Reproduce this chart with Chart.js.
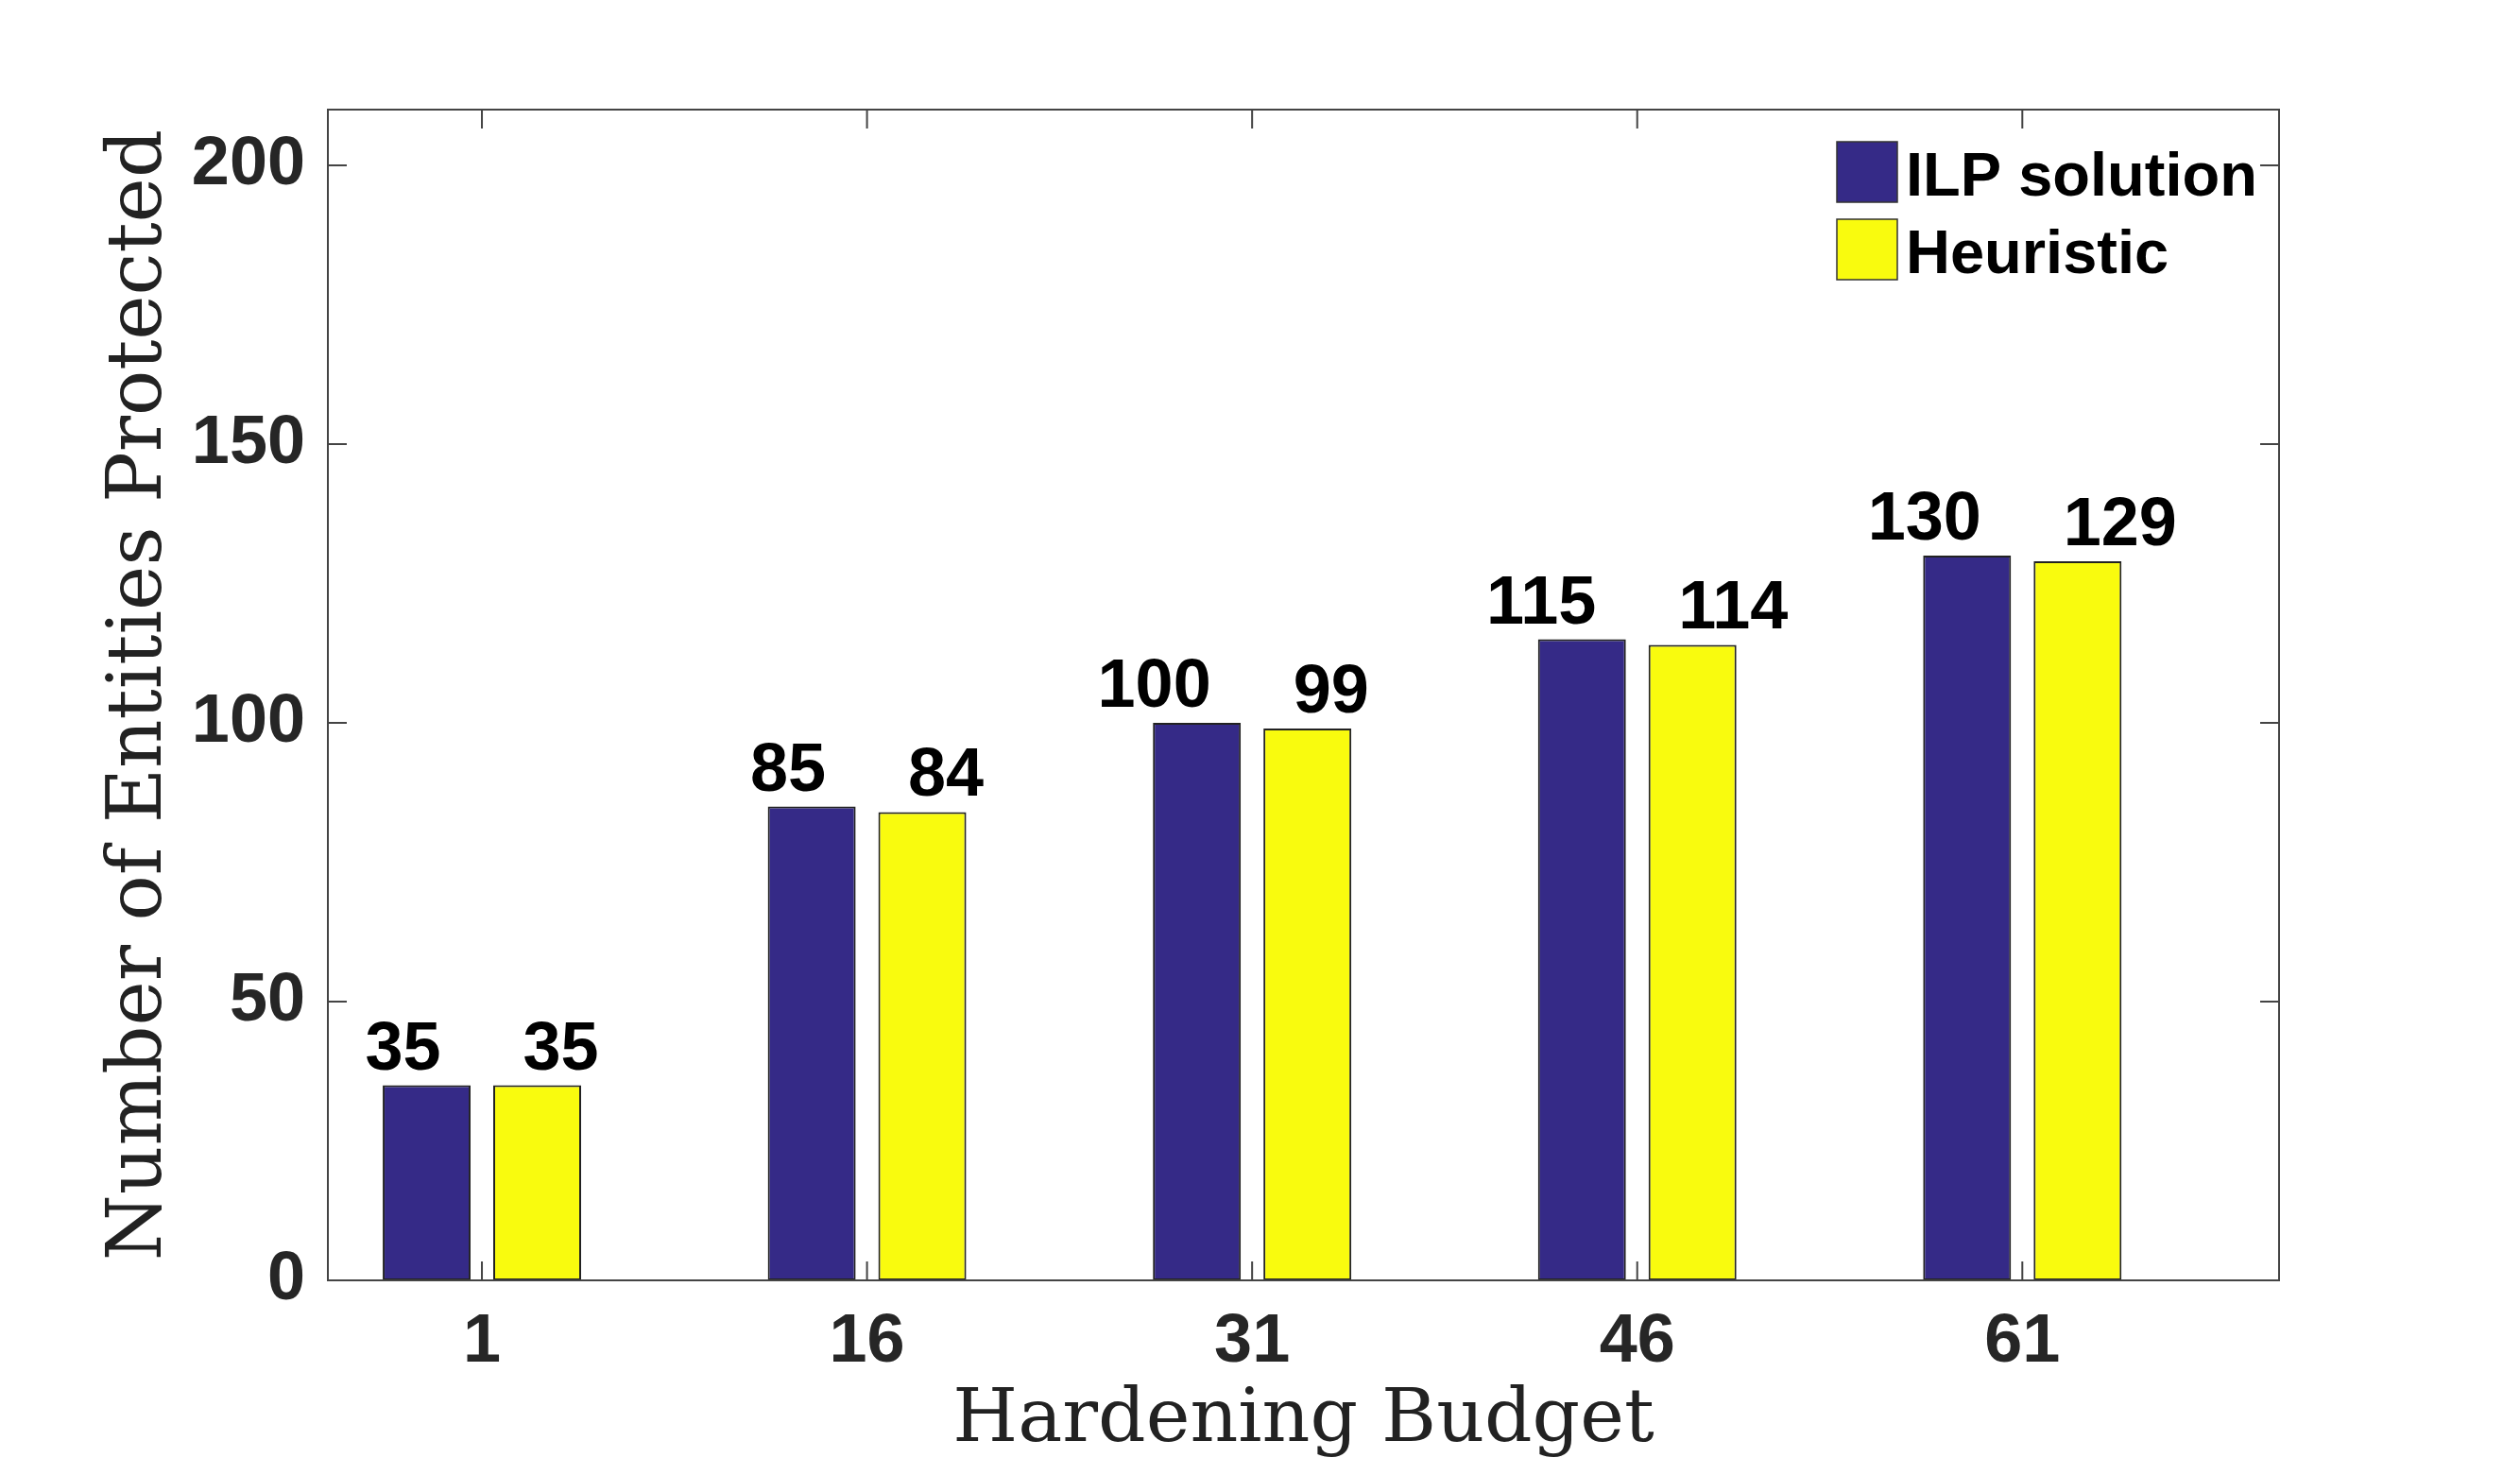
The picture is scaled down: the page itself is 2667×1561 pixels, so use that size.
<!DOCTYPE html>
<html>
<head>
<meta charset="utf-8">
<script src="https://cdn.jsdelivr.net/npm/chart.js@4/dist/chart.umd.min.js"></script>
<style>
  body { margin: 0; background: #fff; }
  canvas { display: block; }
</style>
</head>
<body>
<canvas id="myChart" width="2667" height="1561"></canvas>
<script>
// chart data
const budgets = [1, 16, 31, 46, 61];
const ilpValues = [35, 85, 100, 115, 130];
const heuristicValues = [35, 84, 99, 114, 129];
const yTicks = [0, 50, 100, 150, 200];
const seriesNames = ["ILP solution", "Heuristic"];
const seriesColors = ["rgb(53, 42, 135)", "rgb(249, 251, 14)"];

const sans = "'Liberation Sans', Arial, Helvetica, sans-serif";
const serif = "'DejaVu Serif', serif";

// box + inward ticks like matlab
const axesBox = {
  id: "axesBox",
  afterDatasetsDraw(chart) {
    let { ctx, chartArea: a, scales } = chart;
    let tl = 20;
    ctx.save();
    ctx.strokeStyle = "#444444";
    ctx.lineWidth = 2;
    ctx.strokeRect(a.left, a.top, a.right - a.left, a.bottom - a.top);
    ctx.beginPath();
    scales.y.ticks.forEach(function (t) {
      let py = scales.y.getPixelForValue(t.value);
      ctx.moveTo(a.left, py);
      ctx.lineTo(a.left + tl, py);
      ctx.moveTo(a.right, py);
      ctx.lineTo(a.right - tl, py);
    });
    scales.x.ticks.forEach(function (t) {
      let px = scales.x.getPixelForValue(t.value);
      ctx.moveTo(px, a.bottom);
      ctx.lineTo(px, a.bottom - tl);
      ctx.moveTo(px, a.top);
      ctx.lineTo(px, a.top + tl);
    });
    ctx.stroke();
    ctx.restore();
  },
};

// numbers above the bars
const barValues = {
  id: "barValues",
  afterDatasetsDraw(chart) {
    let ctx = chart.ctx;
    ctx.save();
    ctx.font = "bold 72px " + sans;
    ctx.fillStyle = "#000";
    ctx.textBaseline = "alphabetic";
    chart.data.datasets.forEach(function (ds, di) {
      let meta = chart.getDatasetMeta(di);
      meta.data.forEach(function (bar, i) {
        let text = String(ds.data[i].y);
        if (di === 0) {
          ctx.textAlign = "right";
          ctx.fillText(text, bar.x + 15, bar.y - 17);
        } else {
          ctx.textAlign = "left";
          ctx.fillText(text, bar.x - 15, bar.y - 17);
        }
      });
    });
    ctx.restore();
  },
};

// legend inside the top right corner
const boxLegend = {
  id: "boxLegend",
  afterDraw(chart) {
    let { ctx, chartArea: a } = chart;
    let left = a.right - 468;
    let top = a.top + 34;
    ctx.save();
    ctx.font = "bold 65px " + sans;
    ctx.textAlign = "left";
    ctx.textBaseline = "alphabetic";
    chart.data.datasets.forEach(function (ds, i) {
      let y0 = top + i * 82;
      ctx.fillStyle = ds.backgroundColor;
      ctx.fillRect(left, y0, 64, 64);
      ctx.strokeStyle = "#333";
      ctx.lineWidth = 1.5;
      ctx.strokeRect(left, y0, 64, 64);
      ctx.fillStyle = "#000";
      ctx.fillText(ds.label, left + 73, y0 + 57);
    });
    ctx.restore();
  },
};

function points(values) {
  return budgets.map(function (b, i) {
    return { x: b, y: values[i] };
  });
}

let ctx = document.getElementById("myChart").getContext("2d");
let chart = new Chart(ctx, {
  type: "bar",
  data: {
    datasets: [
      {
        label: seriesNames[0],
        data: points(ilpValues),
        backgroundColor: seriesColors[0],
        borderColor: "#222",
        borderWidth: 2,
        borderSkipped: false,
      },
      {
        label: seriesNames[1],
        data: points(heuristicValues),
        backgroundColor: seriesColors[1],
        borderColor: "#222",
        borderWidth: 2,
        borderSkipped: false,
      },
    ],
  },
  options: {
    responsive: false,
    animation: false,
    categoryPercentage: 0.574,
    barPercentage: 0.795,
    layout: { padding: { left: 0, top: 116, right: 255, bottom: 0 } },
    plugins: {
      legend: { display: false },
      tooltip: { enabled: false },
    },
    scales: {
      x: {
        type: "linear",
        min: -5,
        max: 71,
        offset: false,
        grid: { display: false, offset: false, drawTicks: false },
        border: { display: false },
        afterBuildTicks(scale) {
          scale.ticks = budgets.map((v) => ({ value: v }));
        },
        afterFit(scale) {
          scale.height = 206;
        },
        ticks: {
          padding: 23,
          maxRotation: 0,
          color: "#262626",
          font: { family: sans, size: 72, weight: "bold" },
        },
        title: {
          display: true,
          text: "Hardening Budget",
          color: "#222",
          font: { family: serif, size: 79 },
          padding: { top: 0, bottom: 9 },
        },
      },
      y: {
        min: 0,
        max: 210,
        grid: { display: false, drawTicks: false },
        border: { display: false },
        afterBuildTicks(scale) {
          scale.ticks = yTicks.map((v) => ({ value: v }));
        },
        afterFit(scale) {
          scale.width = 347;
        },
        ticks: {
          padding: 24,
          color: "#262626",
          font: { family: sans, size: 72, weight: "bold" },
        },
        title: {
          display: true,
          text: "Number of Entities Protected",
          color: "#222",
          font: { family: serif, size: 80 },
          padding: { top: 101, bottom: 0 },
        },
      },
    },
  },
  plugins: [axesBox, barValues, boxLegend],
});
</script>
</body>
</html>
